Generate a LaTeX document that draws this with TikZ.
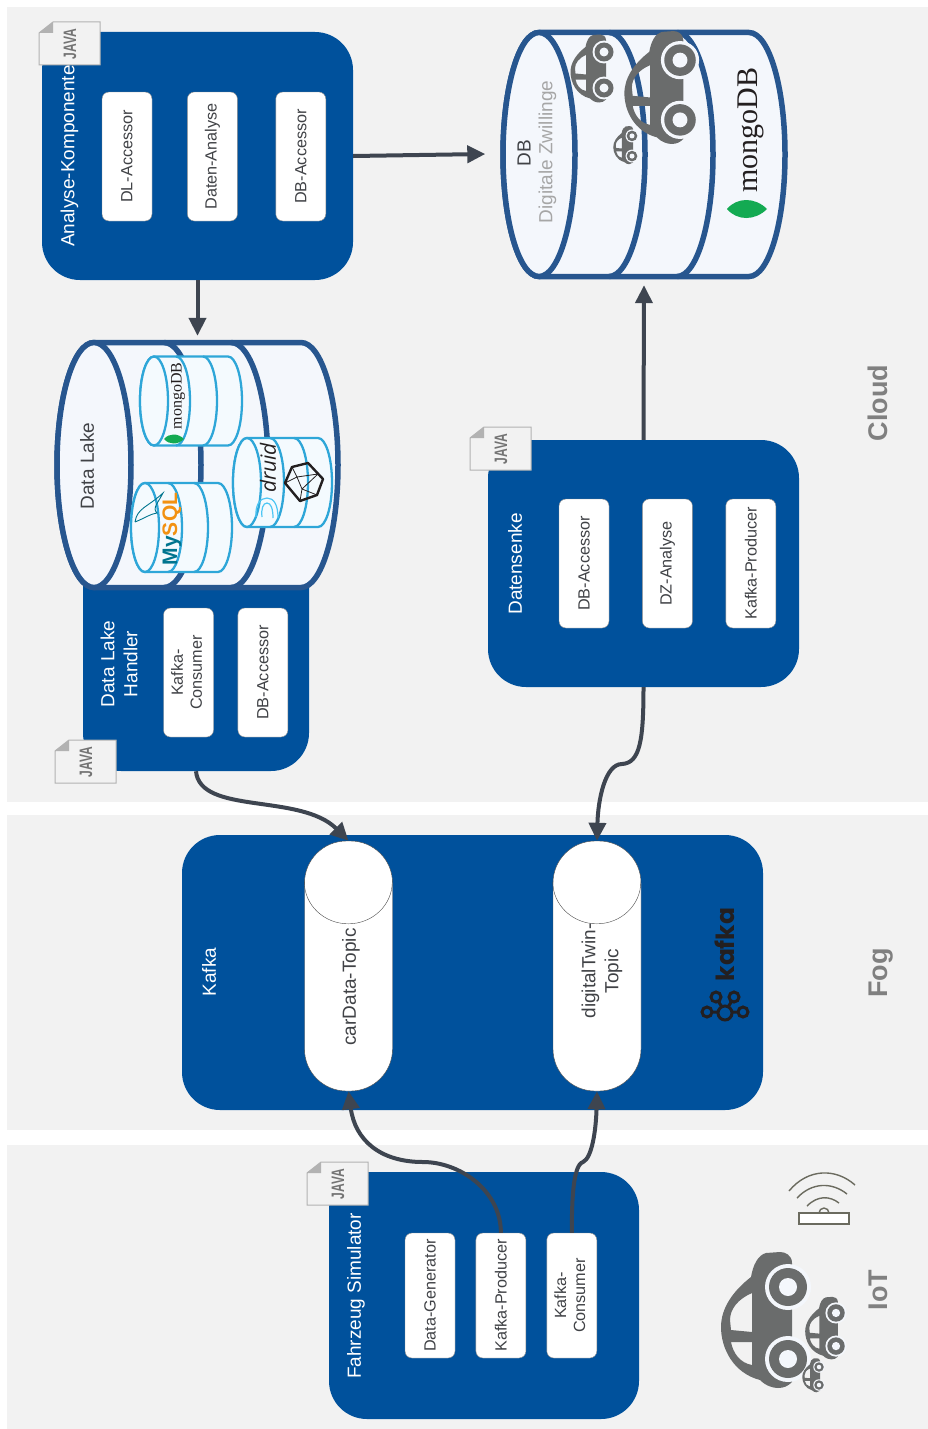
\documentclass[tikz,border=0pt]{standalone}
\usepackage{fontspec}
\setmainfont{Liberation Sans}
\newfontfamily\mongoface{Liberation Serif}
\newfontfamily\kafkaface{Poppins}
\newfontfamily\druidface{Open Sans}
\usetikzlibrary{arrows.meta,positioning,calc}

\definecolor{bandgrey}{HTML}{F2F2F2}
\definecolor{panelblue}{HTML}{00519C}
\definecolor{drumblue}{HTML}{27568F}
\definecolor{drumfill}{HTML}{F4F7FC}
\definecolor{smalldrum}{HTML}{2EA6D8}
\definecolor{smallfill}{HTML}{F4FAFE}
\definecolor{linkgrey}{HTML}{3E4550}
\definecolor{cargrey}{HTML}{6A6C6C}
\definecolor{labelgrey}{HTML}{808080}
\definecolor{textgrey}{HTML}{404246}
\definecolor{leafgreen}{HTML}{13AA52}
\definecolor{dolphinteal}{HTML}{00758F}
\definecolor{mysqlorange}{HTML}{F29111}
\definecolor{logoblack}{HTML}{231F20}
\definecolor{wifigrey}{HTML}{6B6B5F}

\newcommand{\vtext}[1]{\rotatebox{90}{#1}}
\newcommand{\twolines}[2]{\begin{tabular}{@{}c@{}}#1\\#2\end{tabular}}
\newcommand{\drumbody}[7]{%
    \draw[#1] (#2,#4-#5) -- (#6,#4-#5)
        arc[start angle=-90,end angle=90,x radius=#3,y radius=#5]
        -- (#2,#4+#5)
        arc[start angle=90,end angle=270,x radius=#3,y radius=#5] -- cycle;
    \draw[#1] (#2,#4) ellipse[x radius=#3,y radius=#5];
    \foreach \cx in {#7} {
        \draw[#1,fill=none] (\cx,#4-#5)
            arc[start angle=-90,end angle=90,x radius=#3,y radius=#5];
    }%
}

\tikzset{
    car/.pic={
        \fill[cargrey,even odd rule]
            (4,-60) .. controls (4,-68) and (-3,-71) .. (-8,-71) -- (-22,-70)
            .. controls (-30,-68) and (-35,-58) .. (-37,-46)
            .. controls (-55,-32) and (-67,-15) .. (-67,4)
            .. controls (-67,25) and (-55,50) .. (-28,57)
            .. controls (-22,63) and (-15,65) .. (-10,65)
            .. controls (-4,65) and (0,63) .. (4,59) -- cycle
            (-36,-30) .. controls (-50,-24) and (-58,-14) .. (-58,-3) -- (-57,7) -- (-36,9) -- cycle
            (-57,19) -- (-36,19) -- (-36,42) .. controls (-48,40) and (-55,30) .. (-57,19) -- cycle;
        \foreach \wy in {-36,36} {
            \fill[drumfill] (0,\wy) circle[radius=23];
            \fill[cargrey] (0,\wy) circle[radius=19];
            \fill[drumfill] (0,\wy) circle[radius=9];
        }
    },
    javatag/.pic={
        \draw[fill=bandgrey,draw=black!30,line width=1pt] (14,0) -- (61,0) -- (61,43) -- (0,43) -- (0,11) -- cycle;
        \fill[black!30] (14,0) -- (14,11) -- (0,11) -- cycle;
        \node[text=black!55,font=\fontsize{18}{18}\selectfont\bfseries,rotate=90] at (31,22) {\scalebox{.67}[1]{JAVA}};
    },
    leaf/.pic={
        \fill[leafgreen] (-20,0) .. controls (-10,-12) and (8,-12) .. (20,0) .. controls (8,12) and (-10,12) .. cycle;
    }
}

\begin{document}
\begin{tikzpicture}[
        x=1pt,y=-1pt,
        band/.style={fill=bandgrey},
        bandname/.style={rotate=90,text=labelgrey,font=\fontsize{27}{27}\selectfont\bfseries},
        panel/.style={
            fill=panelblue,
            rounded corners=38pt,
            inner sep=0pt
        },
        panelname/.style={rotate=90,text=white,align=center,font=\fontsize{19}{23}\selectfont},
        partbox/.style={
            draw=black!45,
            fill=white,
            rounded corners=7pt,
            minimum width=50pt,
            minimum height=129pt,
            inner sep=0pt,
            text=textgrey,
            font=\fontsize{16.2}{19}\selectfont
        },
        drumarea/.style={inner sep=0pt,minimum width=283pt,minimum height=248pt},
        bigdrum/.style={draw=drumblue,line width=5.5pt,fill=drumfill},
        littledrum/.style={draw=smalldrum,line width=2.3pt,fill=smallfill},
        drumname/.style={rotate=90,text=textgrey,font=\fontsize{19}{23}\selectfont},
        topic/.style={
            draw=black!70,
            fill=white,
            rounded corners=42pt,
            inner sep=0pt,
            minimum width=88pt,
            minimum height=250pt
        },
        toprim/.style={draw=black!70},
        topicname/.style={rotate=90,text=textgrey,align=center,font=\fontsize{19}{23}\selectfont},
        flow/.style={-{Triangle[length=18pt,width=17pt]},line width=4pt,draw=linkgrey,color=linkgrey},
        wifi/.style={draw=wifigrey,line width=1.4pt}
    ]
        \path[use as bounding box,fill=white] (0,0) rectangle (928,1429);
        \fill[band] (7,7) rectangle (928,802);
        \fill[band] (7,815) rectangle (928,1130);
        \fill[band] (7,1145) rectangle (928,1429);

        \node[bandname] (cloudname) at (878,403) {Cloud};
        \node[bandname] (fogname) at (881,973) {Fog};
        \node[bandname] (iotname) at (878,1290) {IoT};

        \node[panel,minimum width=311pt,minimum height=248pt] (analyse) at (197.5,156) {};
        \node[panel,minimum width=226pt,minimum height=231pt] (handler) at (196,655.5) {};
        \node[panel,minimum width=311pt,minimum height=247pt] (senke) at (643.5,563.5) {};
        \node[panel,minimum width=581pt,minimum height=275pt] (kafka) at (472.5,972.5) {};
        \node[panel,minimum width=310pt,minimum height=247pt] (simulator) at (484,1295.5) {};

        \node[panelname] (analysename) at (69.5,156) {Analyse-Komponente};
        \node[panelname] (handlername) at (119,664) {Data Lake\\Handler};
        \node[panelname] (senkename) at (515,564) {Datensenke};
        \node[panelname] (kafkaname) at (209,972) {Kafka};
        \node[panelname] (simulatorname) at (356,1296) {Fahrzeug Simulator};

        \node[partbox] (dlaccessor) at (127,156.5) {\vtext{DL-Accessor}};
        \node[partbox,right=35pt of dlaccessor] (datenanalyse) {\vtext{Daten-Analyse}};
        \node[partbox,right=38pt of datenanalyse] (dbaccessor) {\vtext{DB-Accessor}};

        \node[partbox] (handlerconsumer) at (188.5,672.5) {\vtext{\twolines{Kafka-}{Consumer}}};
        \node[partbox,right=24pt of handlerconsumer] (handleraccessor) {\vtext{DB-Accessor}};

        \node[partbox] (senkeaccessor) at (584,563.5) {\vtext{DB-Accessor}};
        \node[partbox,right=33pt of senkeaccessor] (dzanalyse) {\vtext{DZ-Analyse}};
        \node[partbox,right=33pt of dzanalyse] (senkeproducer) {\vtext{Kafka-Producer}};

        \node[partbox,minimum height=125pt] (generator) at (430,1295.5) {\vtext{Data-Generator}};
        \node[partbox,minimum height=125pt,right=20.5pt of generator] (simproducer) {\vtext{Kafka-Producer}};
        \node[partbox,minimum height=125pt,right=20.5pt of simproducer] (simconsumer) {\vtext{\twolines{Kafka-}{Consumer}}};

        \node[topic] (cardata) at (348.5,966) {};
        \node[topic] (twintopic) at (597,966) {};
        \draw[toprim] ([yshift=-41pt]cardata.north west) arc[start angle=180,end angle=0,x radius=44,y radius=42];
        \draw[toprim] ([yshift=-41pt]twintopic.north west) arc[start angle=180,end angle=0,x radius=44,y radius=42];
        \node[topicname] (cardataname) at (351,987) {carData-Topic};
        \node[topicname] (twinname) at (602,971) {digitalTwin-\\Topic};

        \node[drumarea] (lake) at (197.5,465) {};
        \drumbody{bigdrum}{94}{37}{465}{122.5}{301}{164,231}
        \node[drumname] (lakename) at (87,466) {Data Lake};

        \drumbody{littledrum}{154}{14}{401}{44.5}{228}{176,203}
        \drumbody{littledrum}{145}{14}{527.5}{44.5}{218}{168,194}
        \drumbody{littledrum}{247}{14}{482.5}{44.5}{318}{270,294}

        \node[rotate=90,text=logoblack,font=\fontsize{16}{16}\mongoface\selectfont] (mongosmall) at (178,396) {mongoDB};
        \pic[scale=.5] at (174,439) {leaf};
        \node[rotate=90,font=\fontsize{21}{21}\selectfont\bfseries] (mysqllogo) at (172,529) {\textcolor{dolphinteal}{My}\textcolor{mysqlorange}{SQL}};
        \draw[dolphinteal,line width=.9pt] (135,522) .. controls (137,508) and (148,507) .. (163,493)
            .. controls (158,503) and (152,508) .. (157,513)
            .. controls (150,514) and (145,518) .. (135,522);
        \node[rotate=90,text=logoblack,font=\fontsize{21}{21}\druidface\itshape\selectfont] (druidlogo) at (268,468) {druid};
        \draw[cyan!70,line width=1.2pt] (256,517) .. controls (255,505) and (260,498) .. (267,498) .. controls (274,498) and (278,505) .. (278,518);
        \draw[cyan!70,line width=1.2pt] (262,517) .. controls (261,509) and (263,503) .. (267,503) .. controls (271,503) and (273,509) .. (273,518);
        \draw[logoblack,line width=2.4pt,line join=round] (285,483) -- (292,467) -- (308,463) -- (323,479) -- (317,495) -- (300,501) -- cycle;
        \draw[logoblack,line width=.8pt] (285,483) -- (297,477) -- (292,467) (297,477) -- (318,474) -- (323,479) (297,477) -- (302,489) -- (300,501) (302,489) -- (317,495) (302,489) -- (318,474) (308,463) -- (318,474);

        \node[drumarea] (db) at (644,154) {};
        \drumbody{bigdrum}{539}{36}{154.5}{122}{749}{609,677}
        \node[drumname] (dbname) at (524,153) {DB};
        \node[drumname,text=black!35] (dbsubname) at (547.5,152) {Digitale Zwillinge};
        \pic[scale=.5] at (604,70) {car};
        \pic[scale=.83] at (680,90) {car};
        \pic[scale=.28] at (632,146) {car};
        \node[rotate=90,text=logoblack,font=\fontsize{30}{30}\mongoface\selectfont] (mongobig) at (751,130) {mongoDB};
        \pic at (747,209) {leaf};

        \draw[flow] (analyse.east) -- ([xshift=-17pt]db.west);
        \draw[flow] (analyse.south) -- ([yshift=5pt]lake.north);
        \draw[flow] (senke.north) -- ([yshift=-7pt]db.south);
        \draw[flow] (handler.south) .. controls +(4,44) and +(-48,-48) .. (cardata.north);
        \draw[flow] (senke.south) .. controls +(0,53) and (640,763) .. (622,764)
            .. controls (605,764) and (598,800) .. (twintopic.north);
        \draw[flow] (simproducer.north) .. controls +(0,-42) and (460,1162) .. (423,1162)
            .. controls (380,1162) and (355,1140) .. (cardata.south);
        \draw[flow] (simconsumer.north) .. controls +(0,-32) and (573,1165) .. (583,1162)
            .. controls (592,1158) and (596,1130) .. (twintopic.south);

        \pic at (39,22) {javatag};
        \pic at (55,740) {javatag};
        \pic at (470,427) {javatag};
        \pic at (307,1162) {javatag};

        \node[rotate=90,text=logoblack,font=\fontsize{25}{25}\kafkaface\bfseries\selectfont] (kafkalogo) at (725,944.5) {kafka};
        \draw[logoblack,line width=3pt]
            (725,1013) circle[radius=7] (716,997) circle[radius=5] (734,997) circle[radius=5]
            (707,1012) circle[radius=5] (743,1012) circle[radius=5]
            (712,1012) -- (718,1012) (732,1012) -- (738,1012)
            (718,1001) -- (722,1007) (732,1001) -- (728,1007);

        \pic at (788,1323) {car};
        \pic[scale=.46] at (836,1329.5) {car};
        \pic[scale=.25] at (819,1376) {car};

        \draw[wifi,fill=white] (799,1213) rectangle (849,1224);
        \draw[wifi] (819,1213) arc[start angle=180,end angle=360,radius=5];
        \draw[wifi] (807,1206) .. controls (818,1195) and (830,1196) .. (839,1203);
        \draw[wifi] (797,1198) .. controls (812,1182) and (832,1182) .. (847,1194);
        \draw[wifi] (789,1191) .. controls (808,1168) and (836,1168) .. (855,1185);
    \end{tikzpicture}
\end{document}
